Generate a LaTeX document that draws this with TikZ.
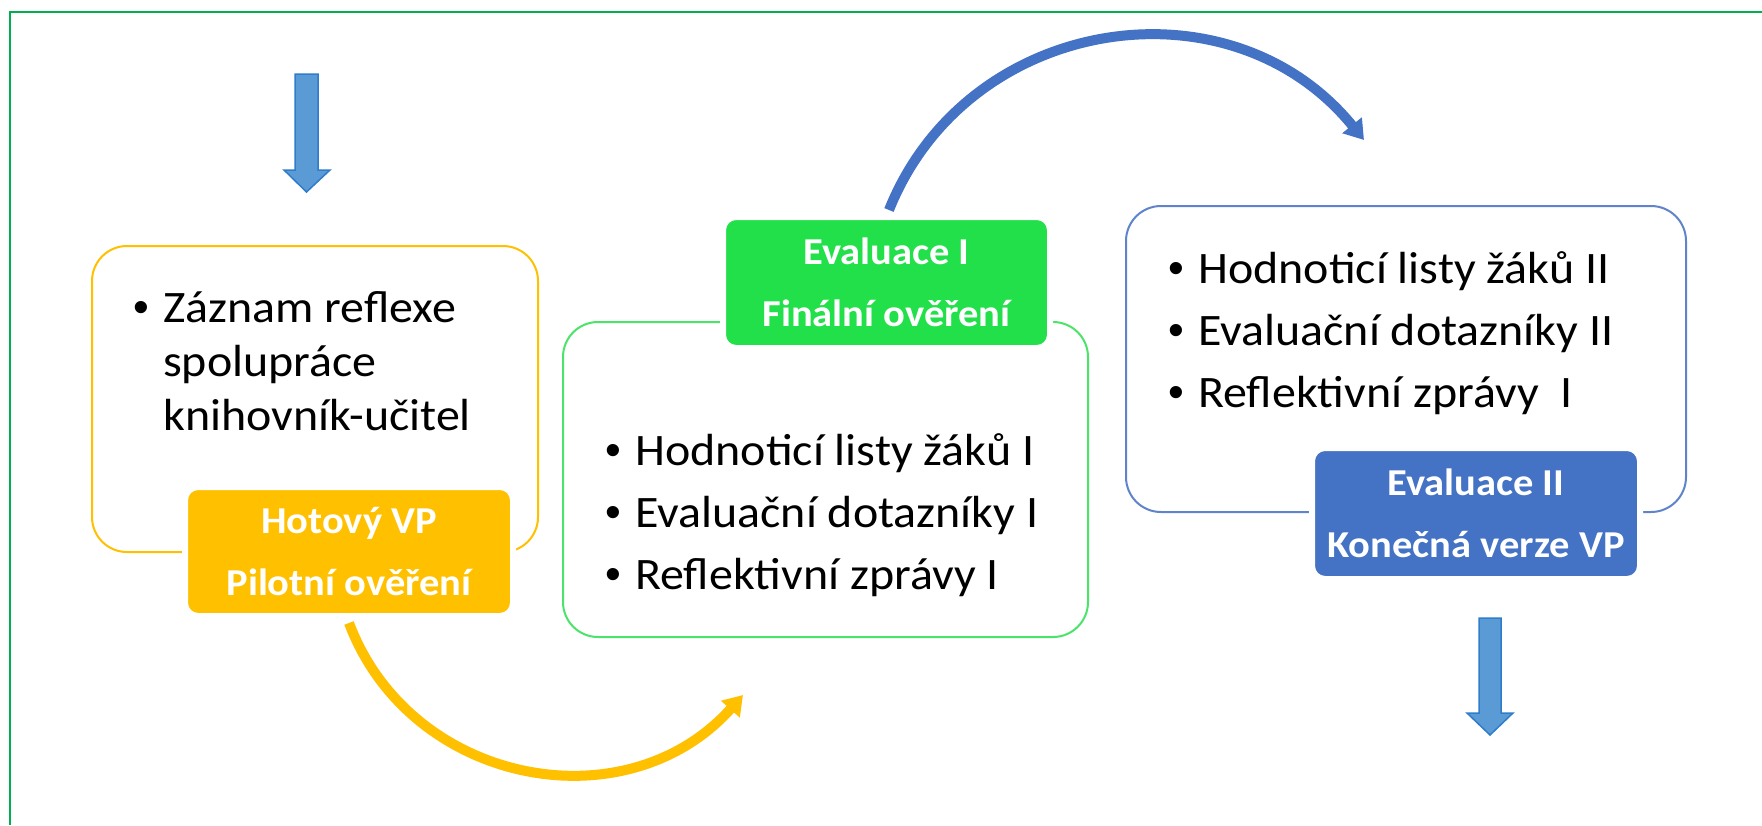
\documentclass[tikz,border=0pt]{standalone}
\usepackage{fontspec}
\setmainfont{Carlito}[FakeStretch=1.066]
\newfontfamily\bulfont{Liberation Sans}
\usetikzlibrary{arrows.meta,positioning}

\definecolor{vpyellow}{HTML}{FFC000}
\definecolor{vpgreen}{HTML}{22E04A}
\definecolor{vpgreenline}{HTML}{4CE36A}
\definecolor{vpblue}{HTML}{4472C4}
\definecolor{vpblueline}{HTML}{5F84CA}
\definecolor{downfill}{HTML}{5B9BD5}
\definecolor{downline}{HTML}{2E7CCB}
\definecolor{framegreen}{HTML}{00B050}

\newcommand\itembul{\makebox[30pt][l]{\bulfont •}}

\begin{document}
\begin{tikzpicture}[x=1pt,y=-1pt,
    outerbox/.style={rounded corners=35pt,line width=2pt,inner sep=0pt},
    tag/.style={fill=#1,draw=white,line width=6pt,rounded corners=13pt,text=white,
      font=\fontsize{38}{62}\selectfont\bfseries,align=center,inner sep=0pt},
    items/.style={font=\fontsize{45}{54}\selectfont,align=left,anchor=base west,inner sep=0pt},
    curvearrow/.style={line width=10pt,-{Triangle[length=19pt,width=24pt]}},
    downarrow/.style={fill=downfill,draw=downline,line width=1.5pt,line join=miter}]

      \useasboundingbox (0,0) rectangle (1762,825);
      \fill[white] (0,0) rectangle (1762,825);
      \draw[framegreen,line width=2pt] (10,825) -- (10,12) -- (1762,12);

      % boxes
      \node[outerbox,draw=vpyellow,minimum width=446pt,minimum height=306pt] (pilotbox) at (315,399) {};
      \node[outerbox,draw=vpgreenline,minimum width=525pt,minimum height=315pt] (finalbox) at (825.5,479.5) {};
      \node[outerbox,draw=vpblueline,minimum width=560pt,minimum height=306pt] (konecbox) at (1406,359) {};

      % texts (anchored at the last line)
      \node[items] (zaznam) at (133,430) {\itembul Záznam reflexe\\\hspace*{30pt}spolupráce\\\hspace*{30pt}knihovník-učitel};
      \node[items] (evalIitems) at (605,589) {\itembul Hodnoticí listy žáků I\\[8pt]\itembul Evaluační dotazníky I\\[8pt]\itembul Reflektivní zprávy I};
      \node[items] (evalIIitems) at (1168,407) {\itembul Hodnoticí listy žáků II\\[8pt]\itembul Evaluační dotazníky II\\[8pt]\itembul Reflektivní zprávy\ \ I};

      % labels
      \node[tag=vpyellow,minimum width=328pt,minimum height=129pt] (hotovy) at (349,551.5) {Hotový VP\\Pilotní ověření};
      \node[tag=vpgreen,minimum width=327pt,minimum height=131pt] (evalI) at (886.5,282.5) {Evaluace I\\Finální ověření};
      \node[tag=vpblue,minimum width=328pt,minimum height=131pt] (evalII) at (1476,513.5) {Evaluace II\\Konečná verze VP};

      % curved arrows
      \coordinate (ytip) at (743,695);
      \coordinate (btip) at (1364,140);
      \draw[curvearrow,vpyellow] ([yshift=-4pt]hotovy.south) .. controls (410,785) and (626,826) .. (ytip);
      \draw[curvearrow,vpblue] ([xshift=2.5pt,yshift=4pt]evalI.north) .. controls (967,15) and (1230,-25) .. (btip);

      % block arrows
      \draw[downarrow] (295,74) -- (318,74) -- (318,170) -- (330,170) -- (306.5,192) -- (284,170) -- (295,170) -- cycle;
      \draw[downarrow] (1479,618) -- (1501,618) -- (1501,713) -- (1513,713) -- (1490,735) -- (1467,713) -- (1479,713) -- cycle;

\end{tikzpicture}
\end{document}
